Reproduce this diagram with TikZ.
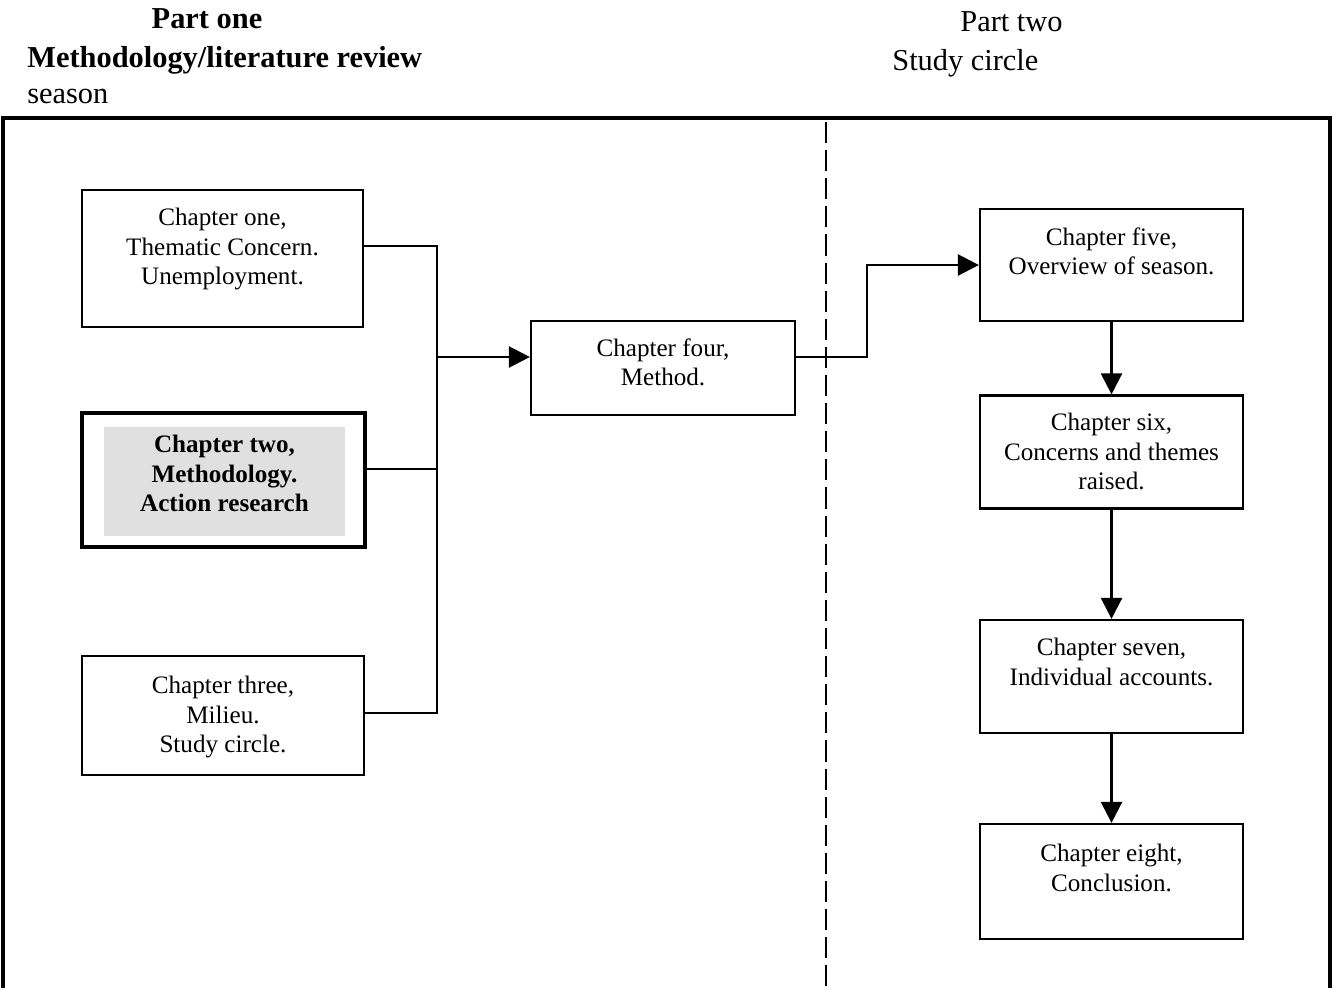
\documentclass[tikz,border=0pt]{standalone}
\usepackage{fontspec}
\setmainfont{Liberation Serif}
\usetikzlibrary{arrows.meta}

\begin{document}
\begin{tikzpicture}[x=0.02cm, y=-0.02cm,
  chapbox/.style={draw, line width=1.3pt, inner sep=0pt},
  chaptext/.style={anchor=north, align=center, inner sep=0pt, font=\fontsize{14.3}{16.8}\selectfont},
  head/.style={anchor=base west, inner sep=0pt, font=\fontsize{17.3}{20}\selectfont},
  link/.style={line width=1.4pt},
  flow/.style={line width=1.4pt, -{Triangle[length=12pt, width=12pt]}}]
\useasboundingbox (0,0) rectangle (1337,988);

% Headings of the two parts
\node[head, anchor=base] (partone) at (207,28) {\textbf{Part one}};
\node[head] (partonesub) at (27,67) {\textbf{Methodology/literature review}};
\node[head] (season) at (27,103) {season};
\node[head] (parttwo) at (960,31) {Part two};
\node[head] (parttwosub) at (892,70) {Study circle};

% Frame and divider
\draw[line width=2pt] (3,988) -- (3,118) -- (1330,118) -- (1330,988);
\draw[line width=1.3pt, dash pattern=on 12pt off 4pt] (826,122) -- (826,988);

% Part one: chapters one to three
\node[chapbox, line width=0.8pt, minimum width=5.62cm, minimum height=2.74cm] (one) at (222.5,258.5) {};
\node[chaptext] at (222.5,208) {Chapter one,\\Thematic Concern.\\Unemployment.};
\node[chapbox, line width=2.4pt, minimum width=5.66cm, minimum height=2.68cm] (two) at (223.5,480) {};
\node[fill=black!12, inner sep=0pt, minimum width=4.82cm, minimum height=2.18cm] (twoshade) at (224.5,481.5) {};
\node[chaptext, font=\fontsize{14.3}{16.8}\selectfont\bfseries] at (224.5,435) {Chapter two,\\Methodology.\\Action research};
\node[chapbox, minimum width=5.64cm, minimum height=2.38cm] (three) at (223,715.5) {};
\node[chaptext] at (223,676) {Chapter three,\\Milieu.\\Study circle.};

% Chapter four
\node[chapbox, minimum width=5.28cm, minimum height=1.88cm] (four) at (663,368) {};
\node[chaptext] at (663,338) {Chapter four,\\Method.};

% Part two: chapters five to eight
\node[chapbox, minimum width=5.26cm, minimum height=2.24cm] (five) at (1111.5,265) {};
\node[chaptext] at (1111.5,227) {Chapter five,\\Overview of season.};
\node[chapbox, minimum width=5.26cm, minimum height=2.26cm] (six) at (1111.5,452) {};
\node[chaptext] at (1111.5,413) {Chapter six,\\Concerns and themes\\raised.};
\node[chapbox, minimum width=5.26cm, minimum height=2.26cm] (seven) at (1111.5,676.5) {};
\node[chaptext] at (1111.5,638) {Chapter seven,\\Individual accounts.};
\node[chapbox, minimum width=5.26cm, minimum height=2.30cm] (eight) at (1111.5,881.5) {};
\node[chaptext] at (1111.5,844) {Chapter eight,\\Conclusion.};

% Connectors
\coordinate (busone) at (437,246);
\coordinate (bustwo) at (437,469);
\coordinate (busthree) at (437,713);
\coordinate (busout) at (437,357);
\coordinate (bend) at (867,357);
\draw[link] (one.east |- busone) -- (busone) -- (busthree) -- (three.east |- busthree);
\draw[link] (two.east |- bustwo) -- (bustwo);
\draw[flow] (busout) -- (four.west |- busout);
\draw[flow] (four.east |- bend) -- (bend) |- (five.west);
\draw[flow] (five.south) -- (six.north);
\draw[flow] (six.south) -- (seven.north);
\draw[flow] (seven.south) -- (eight.north);
\end{tikzpicture}
\end{document}
